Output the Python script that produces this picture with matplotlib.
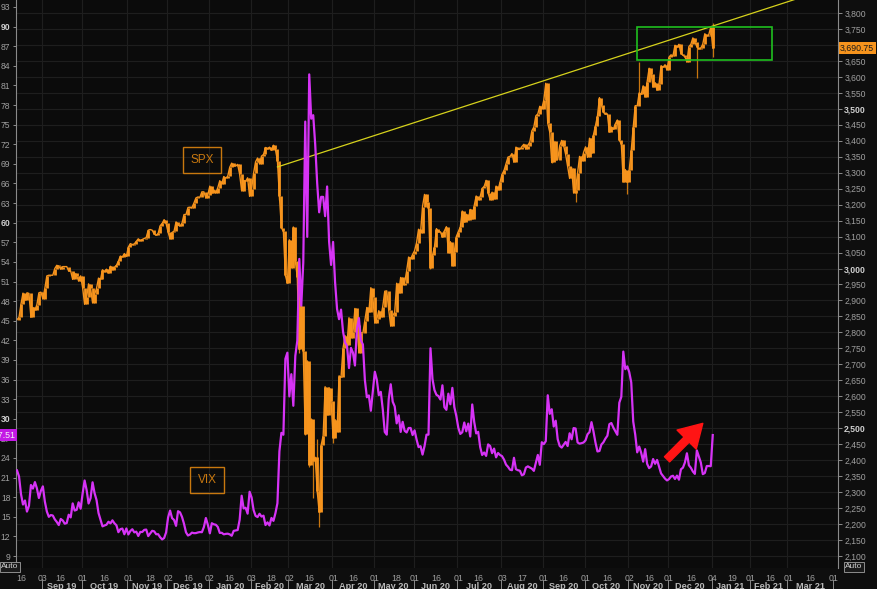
import numpy as np
import matplotlib
matplotlib.use("Agg")
import matplotlib.pyplot as plt
from matplotlib.patches import Rectangle
from matplotlib.transforms import blended_transform_factory

# ---------------- data ----------------
holidays = ["2019-09-02", "2019-11-28", "2019-12-25", "2020-01-01", "2020-01-20",
            "2020-02-17", "2020-04-10", "2020-05-25", "2020-07-03", "2020-09-07",
            "2020-11-26", "2020-12-25", "2021-01-01", "2021-01-18", "2021-02-15"]

month_starts = ["2019-08-14", "2019-09-01", "2019-10-01", "2019-11-01", "2019-12-01",
                "2020-01-01", "2020-02-01", "2020-03-01", "2020-04-01", "2020-05-01",
                "2020-06-01", "2020-07-01", "2020-08-01", "2020-09-01", "2020-10-01",
                "2020-11-01", "2020-12-01", "2021-01-01"]

spx_2019_08 = [2840, 2847, 2889, 2923, 2900, 2924, 2922, 2847, 2878, 2869, 2887, 2924, 2926]
spx_2019_09 = [2906, 2938, 2977, 2979, 2979, 2979, 3000, 3010, 3007, 2998, 3006, 3006, 3006,
               2992, 2992, 2966, 2985, 2977, 2961, 2977]
spx_2019_10 = [2940, 2888, 2910, 2952, 2938, 2893, 2919, 2938, 2970, 2966, 2996, 2990, 2998,
               2986, 3007, 2996, 3004, 3010, 3023, 3039, 3036, 3047, 3038]
spx_2019_11 = [3067, 3078, 3075, 3077, 3085, 3093, 3087, 3091, 3094, 3097, 3120, 3122, 3120,
               3108, 3104, 3110, 3134, 3141, 3153, 3141]
spx_2019_12 = [3114, 3093, 3113, 3117, 3146, 3136, 3133, 3142, 3169, 3169, 3191, 3192, 3191,
               3205, 3221, 3224, 3223, 3240, 3240, 3221, 3231]
spx_2020_01 = [3258, 3235, 3246, 3237, 3253, 3275, 3265, 3288, 3283, 3289, 3317, 3330, 3321,
               3321, 3326, 3295, 3244, 3276, 3273, 3284, 3226]
spx_2020_02 = [3249, 3298, 3334, 3346, 3328, 3352, 3357, 3379, 3374, 3380, 3370, 3386, 3373,
               3338, 3226, 3128, 3116, 2979, 2954]
spx_2020_03 = [3090, 3003, 3130, 3024, 2972, 2747, 2882, 2741, 2481, 2711, 2386, 2529, 2398,
               2409, 2305, 2237, 2447, 2476, 2630, 2541, 2627, 2585]
spx_2020_04 = [2470, 2527, 2489, 2664, 2659, 2750, 2790, 2762, 2846, 2783, 2800, 2875, 2823,
               2737, 2799, 2798, 2837, 2878, 2863, 2940, 2912]
spx_2020_05 = [2830, 2842, 2868, 2848, 2881, 2929, 2930, 2870, 2820, 2852, 2863, 2954, 2922,
               2972, 2949, 2955, 2992, 3036, 3030, 3044]
spx_2020_06 = [3056, 3081, 3123, 3112, 3194, 3232, 3207, 3190, 3002, 3041, 3067, 3125, 3114,
               3115, 3098, 3118, 3131, 3050, 3084, 3009, 3053, 3100]
spx_2020_07 = [3115, 3130, 3180, 3145, 3170, 3152, 3185, 3155, 3197, 3227, 3216, 3225, 3251,
               3257, 3276, 3236, 3216, 3239, 3218, 3258, 3246, 3271]
spx_2020_08 = [3295, 3307, 3328, 3349, 3351, 3360, 3333, 3380, 3373, 3373, 3382, 3389, 3374,
               3385, 3397, 3431, 3443, 3478, 3484, 3508, 3500]
spx_2020_09 = [3527, 3580, 3455, 3427, 3332, 3399, 3340, 3341, 3384, 3401, 3385, 3357, 3320,
               3282, 3316, 3237, 3247, 3298, 3351, 3336, 3363]
spx_2020_10 = [3381, 3348, 3408, 3361, 3419, 3447, 3477, 3535, 3512, 3489, 3483, 3484, 3427,
               3443, 3436, 3453, 3465, 3401, 3391, 3271, 3310, 3270]
spx_2020_11 = [3310, 3370, 3443, 3510, 3509, 3550, 3545, 3572, 3537, 3585, 3627, 3610, 3568,
               3582, 3558, 3578, 3635, 3630, 3638, 3622]
spx_2020_12 = [3662, 3669, 3666, 3699, 3692, 3702, 3673, 3668, 3663, 3647, 3695, 3702, 3722,
               3709, 3695, 3687, 3690, 3703, 3735, 3727, 3732, 3756]
spx_2021_01 = [3690.75]

# a few intraday extremes (wicks) that stand out in the picture
wick_dates = ["2020-02-24", "2020-02-27", "2020-03-09", "2020-03-12", "2020-03-16",
              "2020-03-18", "2020-03-20", "2020-03-23", "2020-03-24", "2020-04-01",
              "2020-06-11", "2020-09-08", "2020-09-24", "2020-10-30", "2020-11-09",
              "2020-12-21", "2021-01-04"]
wick_lows = [3214, 2977, 2734, 2478, 2380, 2281, 2295, 2191, 2345, 2455,
             2999, 3329, 3209, 3234, 3546, 3597, 3663]
wick_highs = [3260, 3097, 2863, 2661, 2553, 2454, 2467, 2300, 2449, 2522,
              3123, 3399, 3279, 3305, 3646, 3703, 3769]

vix_2019_08 = [22.10, 21.18, 18.47, 16.88, 17.50, 15.80, 16.68, 19.87, 19.32, 20.31, 19.35, 17.88, 18.98]
vix_2019_09 = [19.66, 17.33, 15.82, 15.00, 15.27, 15.20, 14.61, 14.22, 13.74, 14.67, 14.44, 13.95,
               14.05, 15.32, 14.91, 17.05, 15.96, 16.07, 17.22, 16.24]
vix_2019_10 = [18.56, 20.56, 19.12, 17.04, 17.86, 20.28, 18.64, 17.57, 15.58, 14.57, 13.54, 13.68,
               13.79, 14.25, 14.00, 14.46, 14.01, 13.71, 12.65, 13.11, 13.20, 12.33, 13.22]
vix_2019_11 = [12.30, 12.83, 13.10, 12.62, 12.73, 12.07, 12.69, 12.68, 13.00, 13.05, 12.05, 12.46,
               12.86, 12.78, 12.34, 12.34, 11.87, 11.54, 11.75, 12.62]
vix_2019_12 = [14.91, 15.96, 14.80, 14.52, 13.62, 15.86, 15.68, 14.99, 13.94, 12.63, 12.14, 12.29,
               12.58, 12.50, 12.51, 12.61, 12.67, 12.65, 13.43, 14.82, 13.78]
vix_2020_01 = [12.47, 14.02, 13.85, 13.79, 13.45, 12.54, 12.56, 12.32, 12.39, 12.42, 12.32, 12.10,
               12.85, 12.91, 12.98, 14.56, 18.23, 16.28, 16.39, 15.49, 18.84]
vix_2020_02 = [17.97, 16.05, 15.15, 14.96, 15.47, 15.04, 15.18, 13.74, 14.15, 13.68, 14.83, 14.38,
               15.56, 17.08, 25.03, 27.85, 27.56, 39.16, 40.11]
vix_2020_03 = [33.42, 36.82, 31.99, 39.62, 41.94, 54.46, 47.30, 53.90, 75.47, 57.83, 82.69, 75.91,
               76.45, 72.00, 66.04, 61.59, 63.95, 63.95, 61.00, 65.54, 57.08, 53.54]
vix_2020_04 = [57.06, 50.91, 46.80, 45.24, 46.70, 43.35, 41.67, 41.17, 37.76, 40.84, 40.11, 38.15,
               43.83, 45.41, 41.98, 41.38, 35.93, 33.29, 33.57, 31.23, 34.15]
vix_2020_05 = [37.19, 35.97, 33.61, 34.12, 31.44, 27.98, 27.57, 33.04, 35.28, 32.61, 31.89, 29.30,
               30.53, 27.99, 29.53, 28.16, 27.91, 28.59, 28.59, 27.51]
vix_2020_06 = [28.23, 26.84, 25.66, 25.81, 24.52, 25.81, 27.57, 27.57, 40.79, 36.09, 34.40, 33.67,
               33.47, 32.94, 35.12, 31.77, 31.37, 33.84, 32.22, 34.73, 31.78, 30.43]
vix_2020_07 = [28.62, 27.68, 27.94, 29.43, 28.08, 29.26, 27.29, 32.19, 29.52, 27.76, 28.00, 25.68,
               24.46, 24.84, 24.32, 26.08, 25.84, 24.74, 25.44, 24.10, 24.76, 24.46]
vix_2020_08 = [24.28, 23.76, 22.99, 22.65, 22.21, 22.13, 24.03, 22.28, 22.13, 22.05, 21.35, 21.51,
               22.54, 22.72, 22.54, 22.37, 22.03, 23.27, 24.47, 22.96, 26.41]
vix_2020_09 = [26.12, 26.57, 33.60, 30.75, 31.46, 28.81, 29.71, 26.87, 25.85, 25.59, 26.04, 26.46,
               25.83, 27.78, 26.86, 28.58, 28.51, 26.38, 26.19, 26.27, 26.37]
vix_2020_10 = [26.70, 27.63, 27.96, 29.48, 28.06, 26.36, 25.00, 25.07, 26.07, 26.40, 26.97, 27.41,
               29.18, 29.35, 28.65, 28.11, 27.55, 32.46, 33.35, 40.28, 37.59, 38.02]
vix_2020_11 = [37.13, 35.55, 29.57, 27.58, 24.86, 25.75, 24.80, 23.45, 25.35, 23.10, 22.45, 22.71,
               23.84, 23.11, 23.70, 22.66, 21.64, 21.25, 20.84, 20.57]
vix_2020_12 = [20.77, 21.17, 21.28, 20.79, 21.30, 20.68, 22.27, 22.52, 23.31, 24.72, 22.89, 22.50,
               21.93, 21.57, 25.16, 24.23, 23.31, 21.53, 21.70, 22.77, 22.77, 22.75]
vix_2021_01 = [27.51]

spx_months = [spx_2019_08, spx_2019_09, spx_2019_10, spx_2019_11, spx_2019_12, spx_2020_01,
              spx_2020_02, spx_2020_03, spx_2020_04, spx_2020_05, spx_2020_06, spx_2020_07,
              spx_2020_08, spx_2020_09, spx_2020_10, spx_2020_11, spx_2020_12, spx_2021_01]
vix_months = [vix_2019_08, vix_2019_09, vix_2019_10, vix_2019_11, vix_2019_12, vix_2020_01,
              vix_2020_02, vix_2020_03, vix_2020_04, vix_2020_05, vix_2020_06, vix_2020_07,
              vix_2020_08, vix_2020_09, vix_2020_10, vix_2020_11, vix_2020_12, vix_2021_01]

x_tick_dates = ["2019-08-16", "2019-09-03", "2019-09-16", "2019-10-01", "2019-10-16", "2019-11-01",
                "2019-11-18", "2019-12-02", "2019-12-16", "2020-01-02", "2020-01-16", "2020-02-03",
                "2020-02-18", "2020-03-02", "2020-03-16", "2020-04-01", "2020-04-16", "2020-05-01",
                "2020-05-18", "2020-06-01", "2020-06-16", "2020-07-01", "2020-07-16", "2020-08-03",
                "2020-08-17", "2020-09-01", "2020-09-16", "2020-10-01", "2020-10-16", "2020-11-02",
                "2020-11-16", "2020-12-01", "2020-12-16", "2021-01-04", "2021-01-19", "2021-02-01",
                "2021-02-16", "2021-03-01", "2021-03-16", "2021-04-01"]
month_label_starts = ["2019-09-01", "2019-10-01", "2019-11-01", "2019-12-01", "2020-01-01",
                      "2020-02-01", "2020-03-01", "2020-04-01", "2020-05-01", "2020-06-01",
                      "2020-07-01", "2020-08-01", "2020-09-01", "2020-10-01", "2020-11-01",
                      "2020-12-01", "2021-01-01", "2021-02-01", "2021-03-01", "2021-04-01"]
month_labels = ["Sep 19", "Oct 19", "Nov 19", "Dec 19", "Jan 20", "Feb 20", "Mar 20", "Apr 20",
                "May 20", "Jun 20", "Jul 20", "Aug 20", "Sep 20", "Oct 20", "Nov 20", "Dec 20",
                "Jan 21", "Feb 21", "Mar 21"]

vix_ticks = list(range(9, 94, 3))
spx_ticks = list(range(2100, 3801, 50))

trend_points = [("2020-02-21", 3318), ("2020-09-02", 3590)]
box_dates = ("2020-11-06", "2021-02-17")
box_values = (3653, 3756)
spx_last = 3690.75
vix_last = 27.51

# ---------------- helpers ----------------
hol = np.array(holidays, dtype="datetime64[D]")
origin = np.datetime64("2019-08-14")


def tidx(d):
    return float(np.busday_count(origin, np.datetime64(d), holidays=hol))


dates = []
for ms, vals in zip(month_starts, spx_months):
    start = np.datetime64(ms)
    y, m = int(ms[:4]), int(ms[5:7])
    end = np.datetime64(f"{y + (m // 12)}-{(m % 12) + 1:02d}-01")
    days = np.arange(start, end, dtype="datetime64[D]")
    days = days[np.is_busday(days, holidays=hol)]
    dates.extend(list(days[:len(vals)]))
spx = np.concatenate([np.asarray(v, float) for v in spx_months])
vix = np.concatenate([np.asarray(v, float) for v in vix_months])
x = np.array([tidx(d) for d in dates])

# ---------------- figure ----------------
BG = "#0e0e0e"
FG = "#a0a0a0"
ORANGE = "#f7941d"
ORANGE_D = "#c9760f"
MAGENTA = "#d633f5"
plt.rcParams["font.family"] = ["Liberation Sans", "DejaVu Sans"]

W, H = 877, 589
fig = plt.figure(figsize=(W / 100, H / 100), dpi=100, facecolor=BG)
L, R, T, B = 16, 838, 0, 568
ax = fig.add_axes([L / W, (H - B) / H, (R - L) / W, (B - T) / H])
ax.set_facecolor("#0b0b0b")
ax2 = ax.twinx()
ax2.set_facecolor("none")

# x scaling: Aug 16 2019 at px 21, Apr 1 2021 at px 834
x0, x1 = tidx("2019-08-16"), tidx("2021-04-01")
ppd = (834 - 21) / (x1 - x0)
ax.set_xlim(x0 - (21 - L) / ppd, x1 + (R - 834) / ppd)

ax.set_ylim(2062.4, 3840.7)
ax2.set_ylim(7.17, 94.07)

# grid
for s in spx_ticks:
    ax.axhline(s, color="#1e1e1e", lw=0.8, zorder=0)
for ms in month_label_starts[:-1]:
    ax.axvline(tidx(ms) - 0.5, color="#1e1e1e", lw=0.8, zorder=0)

# SPX candle-like bars
wx = [tidx(d) for d in wick_dates]
ax.vlines(wx, wick_lows, wick_highs, color=ORANGE_D, lw=0.9, zorder=2)
prev = np.r_[spx[0], spx[:-1]]
ax.vlines(x, np.minimum(prev, spx), np.maximum(prev, spx), color=ORANGE, lw=2.0, zorder=3)
ax.plot(x, spx, color=ORANGE, lw=1.0, zorder=3)

# trend line
tx = [tidx(trend_points[0][0]), tidx(trend_points[1][0])]
ty = [trend_points[0][1], trend_points[1][1]]
slope = (ty[1] - ty[0]) / (tx[1] - tx[0])
xe = ax.get_xlim()[1]
ax.plot([tx[0], xe], [ty[0], ty[0] + slope * (xe - tx[0])], color="#d6d21c", lw=0.9, zorder=4)

# green box
bx0, bx1 = tidx(box_dates[0]), tidx(box_dates[1])
ax.add_patch(Rectangle((bx0, box_values[0]), bx1 - bx0, box_values[1] - box_values[0],
                       fill=False, ec="#1fbf1f", lw=1.2, zorder=5))

# VIX line
ax2.plot(x, vix, color=MAGENTA, lw=1.6, zorder=3)

# arrow
ax2.annotate("", xy=(tidx("2020-12-24"), 29.3), xytext=(tidx("2020-11-30"), 23.8),
             arrowprops=dict(arrowstyle="simple,head_length=1.1,head_width=1.3,tail_width=0.35",
                             color="#ff1414", mutation_scale=15, shrinkA=0, shrinkB=0), zorder=6)

# labels in boxes
ax.text((202 - L) / (R - L), 1 - 160 / (B - T), "SPX", transform=ax.transAxes, color="#c8780f",
        fontsize=8.5, ha="center", va="center", zorder=7,
        bbox=dict(boxstyle="square,pad=0.6", fc="none", ec="#c8780f", lw=1.0))
ax.text((207 - L) / (R - L), 1 - 480 / (B - T), "VIX", transform=ax.transAxes, color="#c8780f",
        fontsize=8.5, ha="center", va="center", zorder=7,
        bbox=dict(boxstyle="square,pad=0.6", fc="none", ec="#c8780f", lw=1.0))

# axes / ticks
for a in (ax, ax2):
    for sp in a.spines.values():
        sp.set_visible(False)
ax.spines["right"].set_visible(True)
ax.spines["right"].set_color("#8a8a8a")
ax2.spines["left"].set_visible(True)
ax2.spines["left"].set_color("#8a8a8a")

ax.yaxis.tick_right()
ax2.yaxis.tick_left()
ax.set_yticks(spx_ticks)
ax.set_yticklabels([f"{v:,}" for v in spx_ticks])
ax2.set_yticks(vix_ticks)
ax2.set_yticklabels([str(v) for v in vix_ticks])
ax.tick_params(axis="y", colors=FG, labelsize=6.2, length=3, width=0.6, pad=1.5, right=True, left=False)
ax2.tick_params(axis="y", colors=FG, labelsize=6.2, length=2.5, width=0.6, pad=1.5, left=True, right=False)
for lbl, v in zip(ax.get_yticklabels(), spx_ticks):
    if v in (2500, 3000, 3500):
        lbl.set_fontweight("bold")
        lbl.set_color("#d0d0d0")
for lbl, v in zip(ax2.get_yticklabels(), vix_ticks):
    if v in (30, 60, 90):
        lbl.set_fontweight("bold")
        lbl.set_color("#d0d0d0")

ax.set_xticks([tidx(d) for d in x_tick_dates])
ax.set_xticklabels([d[8:10] for d in x_tick_dates])
ax.tick_params(axis="x", colors=FG, labelsize=6.3, length=0, pad=4)
ax2.tick_params(axis="x", length=0)

# month labels and separators
tr = blended_transform_factory(ax.transData, ax.transAxes)
for i, lab in enumerate(month_labels):
    a0 = tidx(month_label_starts[i])
    a1 = tidx(month_label_starts[i + 1])
    ax.text((a0 + a1) / 2 - 0.5, -0.032, lab, transform=tr, ha="center", va="center",
            fontsize=6.6, fontweight="bold", color="#b8b8b8", clip_on=False)
for ms in month_label_starts:
    xm = tidx(ms) - 0.5
    ax.plot([xm, xm], [-0.021, -0.040], transform=tr, color="#8a8a8a", lw=0.7, clip_on=False)

# last value tags
ax.annotate(f"{spx_last:,.2f}", xy=(1.0, spx_last), xycoords=("axes fraction", "data"),
            xytext=(1.5, 0), textcoords="offset points", ha="left", va="center",
            fontsize=6.3, color="#1a1a1a", annotation_clip=False, zorder=10,
            bbox=dict(boxstyle="square,pad=0.15", fc="#f7941d", ec="none"))
ax2.annotate(f"{vix_last:.2f}", xy=(0.0, vix_last), xycoords=("axes fraction", "data"),
             xytext=(0, 0), textcoords="offset points", ha="right", va="center",
             fontsize=6.3, color="#f4f4f4", annotation_clip=False, zorder=10,
             bbox=dict(boxstyle="square,pad=0.15", fc="#c419e6", ec="none"))

# "Auto" buttons
fig.text(1 / W, 1 - 567 / H, "Auto", fontsize=6, color="#d0d0d0", ha="left", va="center",
         bbox=dict(boxstyle="square,pad=0.15", fc="#1a1a1a", ec="#a0a0a0", lw=0.6))
fig.text(845 / W, 1 - 567 / H, "Auto", fontsize=6, color="#d0d0d0", ha="left", va="center",
         bbox=dict(boxstyle="square,pad=0.15", fc="#1a1a1a", ec="#a0a0a0", lw=0.6))

fig.savefig("out.png", dpi=100, facecolor=BG)
